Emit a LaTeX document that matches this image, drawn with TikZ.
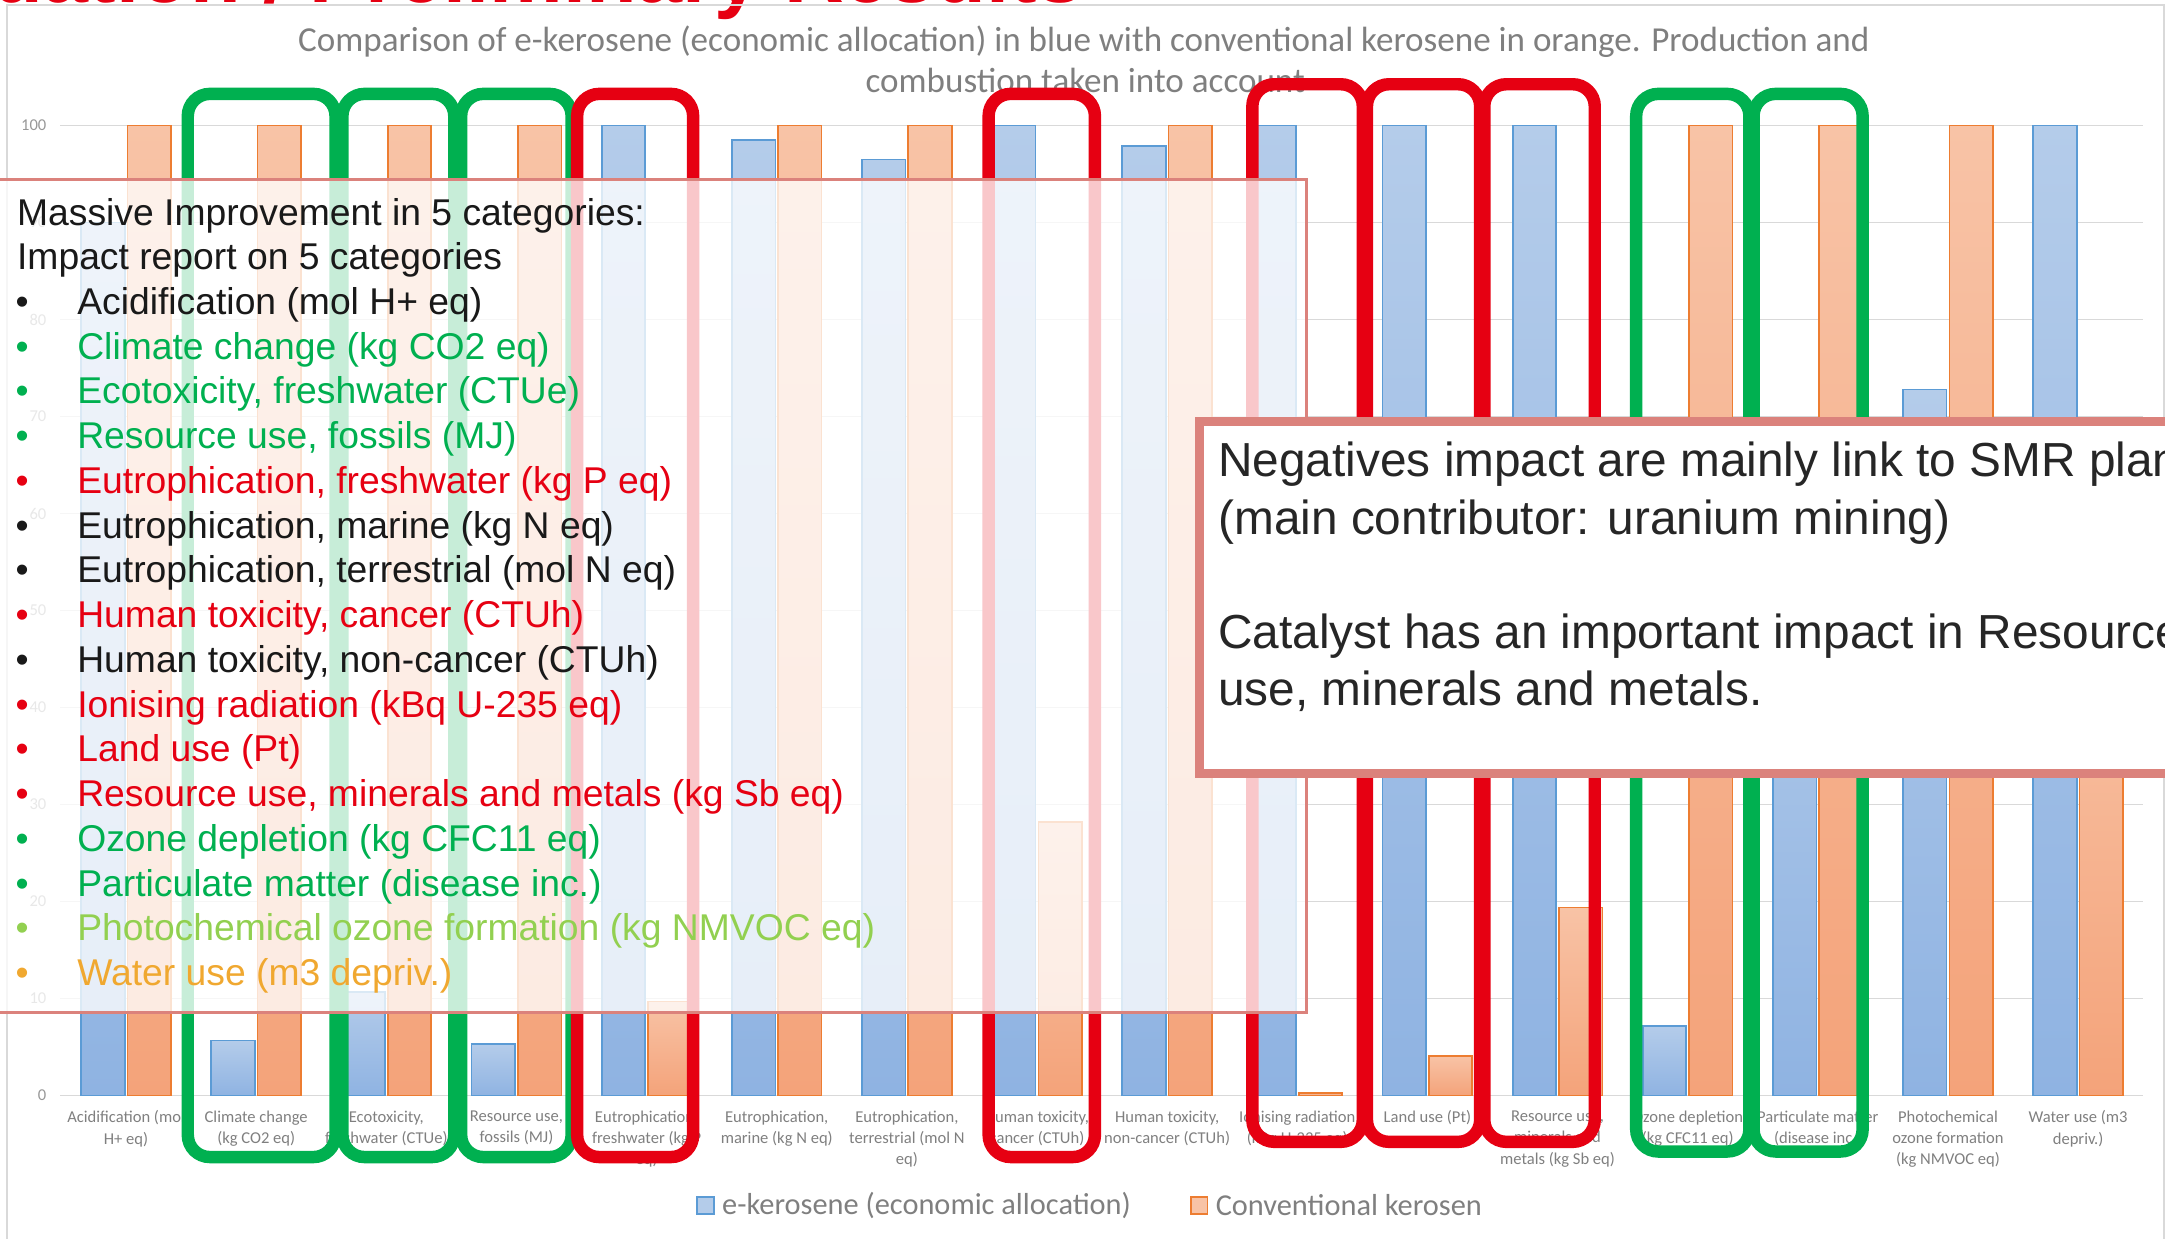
\documentclass[tikz,border=0pt]{standalone}
\usepackage{fontspec}
\setmainfont{Liberation Sans}
\newfontfamily\chartfont{Carlito}
\usetikzlibrary{positioning}
\definecolor{ebarTop}{HTML}{B4CCEA}
\definecolor{ebarBot}{HTML}{8FB3E2}
\definecolor{ebarLine}{HTML}{5B9BD5}
\definecolor{cbarTop}{HTML}{F8C3A6}
\definecolor{cbarBot}{HTML}{F4A37A}
\definecolor{cbarLine}{HTML}{ED7D31}
\definecolor{goodgreen}{HTML}{00B050}
\definecolor{badred}{HTML}{E60012}
\definecolor{lightgreen}{HTML}{92D050}
\definecolor{wateramber}{HTML}{F0A830}
\definecolor{notered}{HTML}{DB827C}
\definecolor{gridgray}{HTML}{D9D9D9}
\definecolor{labelgray}{HTML}{7F7F7F}
\newcommand{\gridrow}[1]{\draw[gridline] (43.5,{793.5-7.025*#1}) -- (1552,{793.5-7.025*#1});
\node[ticklabel] (tick#1) at (34,{793.5-7.025*#1}) {#1};}
\newcommand{\impactcat}[4]{\pgfmathsetmacro{\catx}{91.3+94.25*(#1-1)}%
\draw[ebar] (\catx-32.5,793.5) rectangle (\catx-1,{793.5-7.025*#2});
\draw[cbar] (\catx+1,793.5) rectangle (\catx+32.5,{793.5-7.025*#3});
\node[catlabel] (cat#1) at (\catx,804) {#4};}
\newcommand{\markframe}[5]{\draw[markbox,#1] (#2,#3) rectangle (#4,#5);}
\newcommand{\impactitem}[3]{\node[itemdot,#2] (dot#1) at (16,{163+32.4*#1}) {\textbullet};
\node[itemtext,#2] (item#1) at (55.6,{163+32.4*#1}) {#3};}

\begin{document}
\begin{tikzpicture}[x=0.5pt,y=-0.5pt,
  gridline/.style={gridgray, line width=0.6pt},
  ticklabel/.style={anchor=east, inner sep=0, text=labelgray!80, font=\chartfont\fontsize{6}{7}\selectfont},
  ebar/.style={draw=ebarLine, line width=0.6pt, top color=ebarTop, bottom color=ebarBot},
  cbar/.style={draw=cbarLine, line width=0.6pt, top color=cbarTop, bottom color=cbarBot},
  catlabel/.style={anchor=north, align=center, inner sep=0, text=labelgray, font=\chartfont\fontsize{6}{7.75}\selectfont},
  markbox/.style={line width=4.5pt, rounded corners=8pt},
  itemdot/.style={anchor=base, inner sep=0, font=\fontsize{13.5}{16}\selectfont},
  itemtext/.style={anchor=base west, inner sep=0, font=\fontsize{13.5}{16}\selectfont},
  notetext/.style={anchor=base west, inner sep=0, text=black!85, font=\fontsize{17.3}{21}\selectfont},
  charttitle/.style={anchor=base, inner sep=0, text=labelgray, font=\chartfont\fontsize{12.7}{15}\selectfont},
  legendkey/.style={minimum size=6pt, inner sep=0, line width=0.6pt},
  legendtext/.style={inner sep=0, text=labelgray, font=\chartfont\fontsize{11}{13}\selectfont}]
\useasboundingbox (0,0) rectangle (1568,897);
\clip (0,0) rectangle (1568,897);
% banner title, cut by the top edge
\node[anchor=base east, inner sep=0, text=badred, font=\bfseries\fontsize{30}{36}\selectfont] (banner) at (785,1.5) {Evaluation / Preliminary Results};
% chart frame and title
\draw[gridgray, line width=0.75pt] (5,3.6) rectangle (1567,930);
\node[charttitle] (title1) at (785,37) {Comparison of e-kerosene (economic allocation) in blue with conventional kerosene in orange. Production and};
\node[charttitle] (title2) at (786,67) {combustion taken into account};
% value axis
\gridrow{0}
\gridrow{10}
\gridrow{20}
\gridrow{30}
\gridrow{40}
\gridrow{50}
\gridrow{60}
\gridrow{70}
\gridrow{80}
\gridrow{90}
\gridrow{100}
% bars: index, e-kerosene, conventional, label
\impactcat{1}{90}{100}{Acidification (mol\\H+ eq)}
\impactcat{2}{5.7}{100}{Climate change\\(kg CO2 eq)}
\impactcat{3}{10.7}{100}{Ecotoxicity,\\freshwater (CTUe)}
\impactcat{4}{5.3}{100}{Resource use,\\fossils (MJ)}
\impactcat{5}{100}{9.7}{Eutrophication,\\freshwater (kg P\\eq)}
\impactcat{6}{98.5}{100}{Eutrophication,\\marine (kg N eq)}
\impactcat{7}{96.5}{100}{Eutrophication,\\terrestrial (mol N\\eq)}
\impactcat{8}{100}{28.2}{Human toxicity,\\cancer (CTUh)}
\impactcat{9}{97.9}{100}{Human toxicity,\\non-cancer (CTUh)}
\impactcat{10}{100}{0.3}{Ionising radiation\\(kBq U-235 eq)}
\impactcat{11}{100}{4.1}{Land use (Pt)}
\impactcat{12}{100}{19.4}{Resource use,\\minerals and\\metals (kg Sb eq)}
\impactcat{13}{7.2}{100}{Ozone depletion\\(kg CFC11 eq)}
\impactcat{14}{60}{100}{Particulate matter\\(disease inc.)}
\impactcat{15}{72.8}{100}{Photochemical\\ozone formation\\(kg NMVOC eq)}
\impactcat{16}{100}{50}{Water use (m3\\depriv.)}
% legend
\node[legendkey, draw=ebarLine, fill=ebarTop] (keyE) at (511,873) {};
\node[legendtext, right=2.5pt of keyE] (legE) {e-kerosene (economic allocation)};
\node[legendkey, draw=cbarLine, fill=cbarTop] (keyC) at (868.5,873) {};
\node[legendtext, right=2.5pt of keyC] (legC) {Conventional kerosen};
% highlight frames
\markframe{goodgreen}{136}{68}{243}{838}
\markframe{goodgreen}{248}{68}{329}{838}
\markframe{goodgreen}{334}{68}{414}{838}
\markframe{badred}{418}{68}{502}{838}
\markframe{badred}{716}{68}{793}{838}
\markframe{badred}{907}{61}{987}{827}
\markframe{badred}{990}{61}{1072}{827}
\markframe{badred}{1075}{61}{1155}{827}
\markframe{goodgreen}{1185}{68}{1267}{834}
\markframe{goodgreen}{1270}{68}{1349}{834}
% left note
\draw[notered, line width=1pt, fill=white, fill opacity=0.78] (-10,130) rectangle (946,733.5);
\node[itemtext, text=black!90] (head1) at (12,163) {Massive Improvement in 5 categories:};
\node[itemtext, text=black!90] (head2) at (12,195.4) {Impact report on 5 categories};
\impactitem{2}{black!90}{Acidification (mol H+ eq)}
\impactitem{3}{goodgreen}{Climate change (kg CO2 eq)}
\impactitem{4}{goodgreen}{Ecotoxicity, freshwater (CTUe)}
\impactitem{5}{goodgreen}{Resource use, fossils (MJ)}
\impactitem{6}{badred}{Eutrophication, freshwater (kg P eq)}
\impactitem{7}{black!90}{Eutrophication, marine (kg N eq)}
\impactitem{8}{black!90}{Eutrophication, terrestrial (mol N eq)}
\impactitem{9}{badred}{Human toxicity, cancer (CTUh)}
\impactitem{10}{black!90}{Human toxicity, non-cancer (CTUh)}
\impactitem{11}{badred}{Ionising radiation (kBq U-235 eq)}
\impactitem{12}{badred}{Land use (Pt)}
\impactitem{13}{badred}{Resource use, minerals and metals (kg Sb eq)}
\impactitem{14}{goodgreen}{Ozone depletion (kg CFC11 eq)}
\impactitem{15}{goodgreen}{Particulate matter (disease inc.)}
\impactitem{16}{lightgreen}{Photochemical ozone formation (kg NMVOC eq)}
\impactitem{17}{wateramber}{Water use (m3 depriv.)}
% right note
\draw[notered, line width=3.25pt, fill=white] (868.5,305) rectangle (1620,560);
\node[notetext] (neg1) at (882,345) {Negatives impact are mainly link to SMR plant};
\node[notetext] (neg2) at (882,387) {(main contributor: uranium mining)};
\node[notetext] (cata1) at (882,470) {Catalyst has an important impact in Resource};
\node[notetext] (cata2) at (882,511) {use, minerals and metals.};
\end{tikzpicture}
\end{document}
